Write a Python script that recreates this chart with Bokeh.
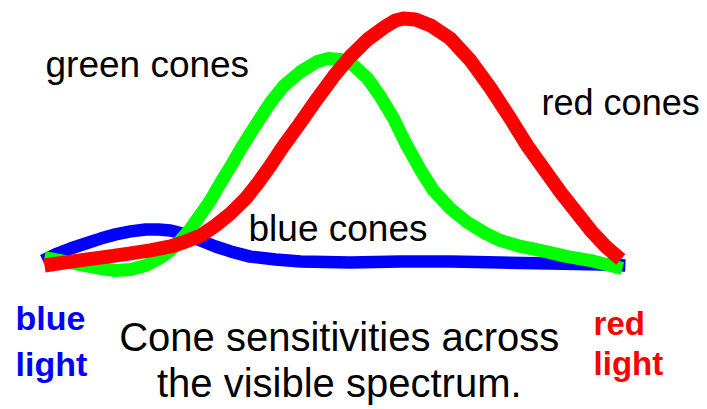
from bokeh.plotting import figure
from bokeh.models import Range1d
from bokeh.embed import file_html
from bokeh.resources import INLINE
from bokeh.core.properties import value

# Relative position across the visible spectrum (0 = blue end, 100 = red end)
# and relative cone sensitivity (peak of red cones = 100).
red_x = [0.0, 4.5, 9.7, 14.9, 18.3, 21.8, 24.4, 27.0, 29.6, 32.2, 34.8, 37.0, 39.1, 41.3,
         44.3, 47.2, 50.0, 52.9, 55.9, 59.0, 60.7, 62.1, 64.2, 66.8, 70.2, 73.7, 77.2,
         80.6, 83.6, 86.7, 89.3, 91.9, 94.5, 97.1, 99.7]
red_y = [0.0, 1.6, 3.2, 4.9, 6.1, 7.7, 9.7, 12.1, 16.2, 21.1, 27.1, 33.6, 40.5, 48.2,
         57.9, 67.6, 76.5, 84.6, 91.5, 96.8, 99.2, 100.0, 99.6, 97.2, 91.9, 83.0, 71.7,
         59.5, 48.2, 38.1, 29.6, 21.9, 14.2, 7.7, 2.4]

green_x = [0.0, 2.8, 6.2, 9.7, 12.3, 14.9, 17.5, 20.1, 21.8, 23.5, 25.3, 27.0, 28.7, 30.4,
           32.2, 33.9, 35.6, 37.4, 39.1, 41.3, 44.3, 47.2, 49.1, 51.2, 53.3, 55.9, 58.1,
           60.4, 62.5, 65.1, 67.3, 70.2, 73.2, 76.3, 78.9, 82.4, 85.8, 90.5, 94.5, 97.9, 100.0]
green_y = [3.2, 2.0, 0.4, -1.2, -2.0, -1.6, 0.0, 3.2, 6.1, 10.1, 15.0, 20.6, 26.3, 33.2,
           40.1, 47.0, 53.4, 59.9, 66.0, 72.5, 78.5, 82.6, 83.8, 83.4, 81.4, 75.7, 68.4,
           59.5, 49.4, 38.5, 30.4, 23.1, 17.4, 13.0, 10.1, 7.7, 6.1, 3.6, 2.0, 0.0, -1.2]

blue_x = [-0.3, 1.9, 4.5, 7.1, 9.7, 12.3, 14.9, 17.5, 19.7, 21.8, 24.4, 27.0, 29.6, 32.2,
          35.6, 40.0, 44.3, 52.9, 61.6, 70.2, 78.9, 87.5, 96.2, 100.5]
blue_y = [2.0, 4.5, 6.9, 8.9, 10.9, 12.6, 13.8, 14.6, 14.6, 14.2, 12.6, 10.1, 7.7, 5.7,
          3.6, 2.4, 1.6, 1.2, 1.6, 1.6, 1.2, 0.8, 0.4, 0.0]

cone_labels = ["green cones", "red cones", "blue cones"]
title_lines = ["Cone sensitivities across", "the visible spectrum."]
end_labels_blue = ["blue", "light"]
end_labels_red = ["red", "light"]

p = figure(width=707, height=409, output_backend="svg", toolbar_location=None,
           x_axis_location=None, y_axis_location=None, min_border=0,
           x_range=Range1d(-7.612, 114.706), y_range=Range1d(-58.30, 107.29))
p.grid.visible = False
p.outline_line_color = None
p.background_fill_color = "white"
p.border_fill_color = "white"

p.line(blue_x, blue_y, line_color="#0000ff", line_width=12.5, line_join="round")
p.line(green_x, green_y, line_color="#00ff00", line_width=13, line_join="round")
p.line(red_x, red_y, line_color="#ff0000", line_width=14, line_join="round")

font = value("Liberation Sans")
p.text(x=[0.17], y=[81.2], text=[cone_labels[0]], text_font=font, text_font_size="37px",
       text_color="black", text_baseline="alphabetic", text_align="left")
p.text(x=[86.0], y=[65.8], text=[cone_labels[1]], text_font=font, text_font_size="36px",
       text_color="black", text_baseline="alphabetic", text_align="left")
p.text(x=[35.3], y=[14.8], text=[cone_labels[2]], text_font=font, text_font_size="37px",
       text_color="black", text_baseline="alphabetic", text_align="left")

p.text(x=[51.0, 51.0], y=[-28.9, -47.5], text=title_lines, text_font=font,
       text_font_size="40px", text_color="black", text_baseline="alphabetic",
       text_align="center")

p.text(x=[-5.0, -5.0], y=[-21.2, -39.8], text=end_labels_blue, text_font=font,
       text_font_size="34px", text_font_style="bold", text_color="#0000ff",
       text_baseline="alphabetic", text_align="left")
p.text(x=[95.0, 95.0], y=[-23.6, -39.8], text=end_labels_red, text_font=font,
       text_font_size="33px", text_font_style="bold", text_color="#ff0000",
       text_baseline="alphabetic", text_align="left")

open("out.html", "w").write(file_html(p, INLINE))
